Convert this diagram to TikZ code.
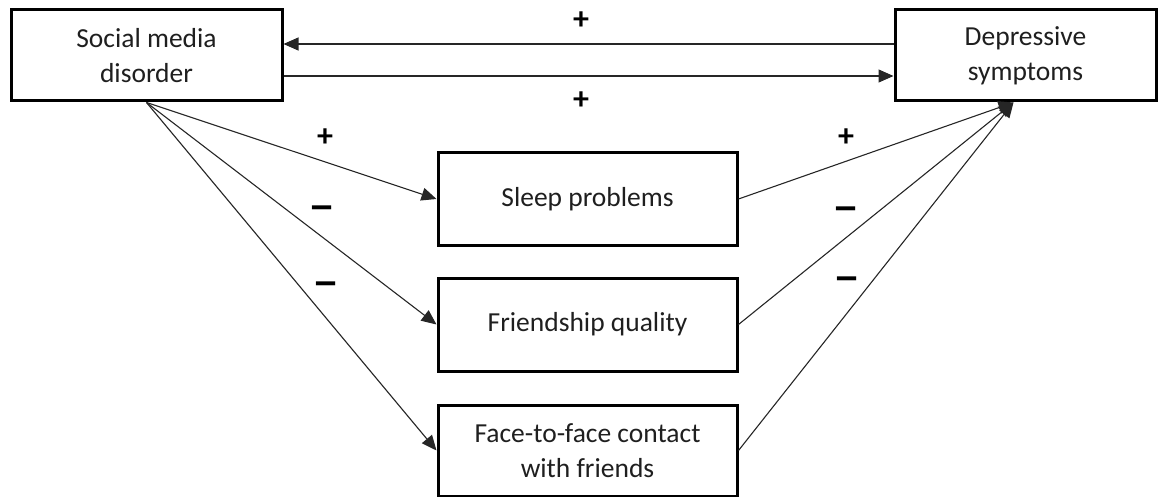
\documentclass[tikz,border=0pt]{standalone}
\usepackage{fontspec}
\setmainfont{Carlito}
\usetikzlibrary{arrows.meta}
\begin{document}
\begin{tikzpicture}[x=1pt,y=-1pt,
  box/.style={draw=black,line width=3pt,fill=white,align=center,inner sep=0pt,
    font=\fontsize{27.5}{35}\selectfont,text=black!88},
  conn/.style={line width=1.1pt,draw=black!85},
  arr/.style={conn,-{Triangle[length=15pt,width=13pt]}},
  sign/.style={font=\fontsize{32}{32}\selectfont\bfseries,text=black}]
\useasboundingbox (0,0) rectangle (1158,497);
\node[box,minimum width=271pt,minimum height=91pt] (sm) at (146.5,55.5) {Social media\\disorder};
\node[box,minimum width=261pt,minimum height=91pt] (dep) at (1025.5,55.5) {Depressive\\symptoms};
\node[box,minimum width=299pt,minimum height=92pt] (sleep) at (587.5,199) {Sleep problems};
\node[box,minimum width=299pt,minimum height=93pt] (fq) at (587.5,324.5) {Friendship quality};
\node[box,minimum width=299pt,minimum height=91pt] (ff) at (587.5,450.5) {Face-to-face contact\\with friends};
\coordinate (tgt) at ([xshift=-12pt]dep.south);
\draw[arr] ([yshift=11.5pt]dep.west) -- ([yshift=11.5pt]sm.east);
\draw[arr] ([yshift=-20.5pt]sm.east) -- ([yshift=-20.5pt]dep.west);
\draw[arr] (sm.south) -- (sleep.west);
\draw[arr] (sm.south) -- (fq.west);
\draw[arr] (sm.south) -- (ff.west);
\draw[arr] (sleep.east) -- (tgt);
\draw[arr] (fq.east) -- (tgt);
\draw[arr] (ff.east) -- (tgt);
\node[sign] (p1) at (581,21) {+};
\node[sign] (p2) at (581,101) {+};
\node[sign] (p3) at (325,138) {+};
\node[sign] (p4) at (846,138) {+};
\node[sign] (m1) at (322,213) {\scalebox{1.7}[1.4]{–}};
\node[sign] (m2) at (326,289) {\scalebox{1.7}[1.4]{–}};
\node[sign] (m3) at (846,214) {\scalebox{1.7}[1.4]{–}};
\node[sign] (m4) at (847,284) {\scalebox{1.7}[1.4]{–}};
\end{tikzpicture}
\end{document}
